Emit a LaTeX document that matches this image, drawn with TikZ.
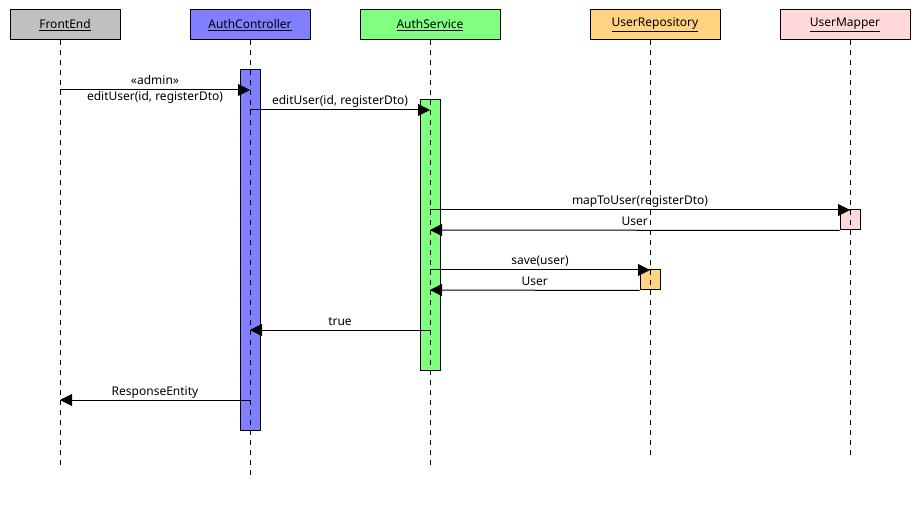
\documentclass[tikz,border=0pt]{standalone}
\usepackage{fontspec}
\setsansfont{Noto Sans}
\usetikzlibrary{arrows.meta, positioning}
\usepackage{xcolor}
\definecolor{frontgray}{RGB}{192, 192, 192}
\definecolor{ctrlblue}{RGB}{128, 128, 255}
\definecolor{servicegreen}{RGB}{128, 255, 128}
\definecolor{repoorange}{RGB}{255, 211, 128}
\definecolor{mapperpink}{RGB}{255, 217, 217}

\begin{document}
\begin{tikzpicture}[
    x=1pt, y=-1pt,
    header/.style={rectangle, draw=black, minimum height=30pt, inner sep=0pt, font=\sffamily\fontsize{12}{14}\selectfont, line width=1pt},
    activation/.style={rectangle, draw=black, minimum width=20pt, inner sep=0pt, line width=1pt},
    lifeline/.style={draw=black, line width=1pt, dash pattern=on 5pt off 5pt},
    msg/.style={-{Triangle[length=12pt, width=12pt]}, line width=1pt},
    msglabel/.style={font=\sffamily\fontsize{12}{14}\selectfont, inner sep=1.5pt, text height=9pt, text depth=3pt},
]
\useasboundingbox (0,0) rectangle (920,510);

% Participants
\node[header, fill=frontgray, minimum width=110pt] (frontend) at (65,25) {\underline{FrontEnd}};
\node[header, fill=ctrlblue, minimum width=120pt] (controller) at (250,25) {\underline{AuthController}};
\node[header, fill=servicegreen, minimum width=140pt] (service) at (430,25) {\underline{AuthService}};
\node[header, fill=repoorange, minimum width=130pt] (repository) at (655,25) {\underline{UserRepository}};
\node[header, fill=mapperpink, minimum width=130pt] (mapper) at (845,25) {\underline{UserMapper}};

% Lifeline ends
\coordinate (feLine) at (60,40);
\coordinate (ctrlLine) at (250,40);
\coordinate (servLine) at (430,40);
\coordinate (repoLine) at (650,40);
\coordinate (mapLine) at (850,40);

% Activations
\node[activation, fill=ctrlblue, minimum height=360pt] (ctrlact) at (250,250) {};
\node[activation, fill=servicegreen, minimum height=270pt] (servact) at (430,235) {};
\node[activation, fill=mapperpink, minimum height=20pt] (mapact) at (850,220) {};
\node[activation, fill=repoorange, minimum height=20pt] (repoact) at (650,280) {};

% Lifelines
\draw[lifeline] (feLine) -- (feLine |- 0,467);
\draw[lifeline] (ctrlLine) -- (ctrlLine |- 0,478);
\draw[lifeline] (servLine) -- (servLine |- 0,467);
\draw[lifeline] (repoLine) -- (repoLine |- 0,455);
\draw[lifeline] (mapLine) -- (mapLine |- 0,455);

% Messages
\draw[msg] (feLine |- 0,90) -- node[msglabel, above] {«admin»} node[msglabel, below] {editUser(id, registerDto)} (ctrlLine |- 0,90);
\draw[msg] (ctrlLine |- 0,110) -- node[msglabel, above] {editUser(id, registerDto)} (servLine |- 0,110);
\draw[msg] (servLine |- 0,210) -- node[msglabel, above] {mapToUser(registerDto)} (mapLine |- 0,210);
\draw[msg] (mapact.south west) -- node[msglabel, above] {User} (servLine |- 0,230);
\draw[msg] (servLine |- 0,270) -- node[msglabel, above] {save(user)} (repoLine |- 0,270);
\draw[msg] (repoact.south west) -- node[msglabel, above] {User} (servLine |- 0,290);
\draw[msg] (servLine |- 0,330) -- node[msglabel, above] {true} (ctrlLine |- 0,330);
\draw[msg] (ctrlLine |- 0,400) -- node[msglabel, above] {ResponseEntity} (feLine |- 0,400);

\end{tikzpicture}
\end{document}
